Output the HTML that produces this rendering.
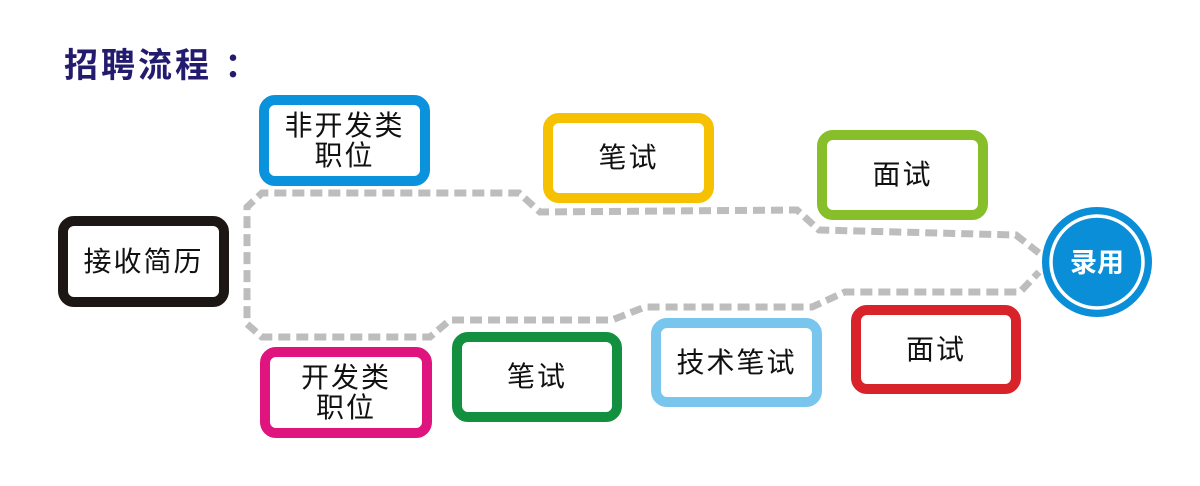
<!DOCTYPE html>
<html><head><meta charset="utf-8"><style>
html,body{margin:0;padding:0;background:#fff;}
body{width:1200px;height:486px;position:relative;overflow:hidden;font-family:"Liberation Sans","Noto Sans CJK SC",sans-serif;}
.t{position:absolute;left:64px;top:38px;font-size:34px;font-weight:bold;color:#231c6e;letter-spacing:3px;}
.b{position:absolute;box-sizing:border-box;border:10px solid;border-radius:16px;background:#fff;display:flex;align-items:center;justify-content:center;text-align:center;font-size:28px;line-height:30px;color:#111;letter-spacing:2px;}
svg{position:absolute;left:0;top:0;}
</style></head><body>
<div class="t">招聘流程 ：</div>
<svg width="1200" height="486">
<g fill="none" stroke="#bdbdbd" stroke-width="7" stroke-dasharray="12,6">
<path d="M1039,253 L1016,235 L819,230 L797,210 L540,212 L519,193 L262,193 L247,207 L247,324 L262,337 L430,337 L450,320 L612,320 L645,307 L812,307 L845,292 L1020,292 L1039,272"/>
</g>
<circle cx="1097" cy="262" r="55" fill="#0a8ed8"/>
<circle cx="1097" cy="262" r="46" fill="none" stroke="#fff" stroke-width="3.5"/>
<text x="1097" y="272" text-anchor="middle" font-size="27" font-weight="bold" fill="#fff" font-family="Liberation Sans,Noto Sans CJK SC,sans-serif">录用</text>
</svg>
<div class="b" style="left:58px;top:216px;width:171px;height:91px;border-color:#1c1715;">接收简历</div>
<div class="b" style="left:259px;top:95px;width:171px;height:91px;border-color:#0a93dc;">非开发类<br>职位</div>
<div class="b" style="left:260px;top:347px;width:172px;height:91px;border-color:#e0147f;">开发类<br>职位</div>
<div class="b" style="left:543px;top:113px;width:171px;height:90px;border-color:#f6c003;">笔试</div>
<div class="b" style="left:817px;top:130px;width:171px;height:90px;border-color:#86bf2a;">面试</div>
<div class="b" style="left:452px;top:332px;width:170px;height:90px;border-color:#12903f;">笔试</div>
<div class="b" style="left:651px;top:318px;width:171px;height:89px;border-color:#78c5ee;">技术笔试</div>
<div class="b" style="left:851px;top:305px;width:170px;height:89px;border-color:#d8232a;">面试</div>
</body></html>
